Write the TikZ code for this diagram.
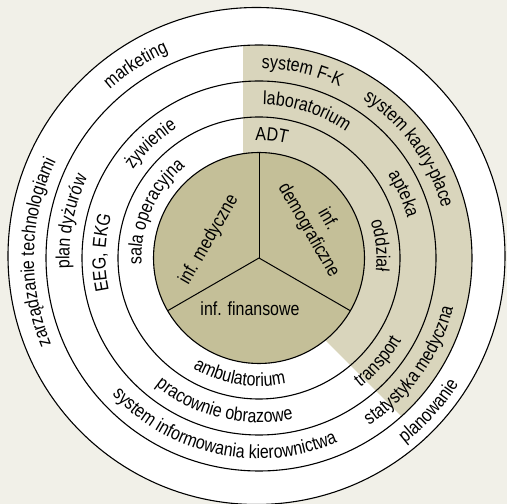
\documentclass[tikz,border=0pt]{standalone}
\usepackage{fontspec}
\setmainfont[FakeStretch=0.84]{Liberation Sans}
\usetikzlibrary{calc,decorations.text}

\definecolor{paper}{HTML}{F1F0E8}
\definecolor{band}{HTML}{D9D5BC}
\definecolor{hubfill}{HTML}{C4BF98}

\tikzset{
  ringline/.style={draw=black, line width=1.1pt},
  hubdisc/.style={circle, draw=black, line width=1.1pt, fill=hubfill,
    minimum size=211pt, inner sep=0pt, outer sep=0pt},
  spoke/.style={draw=black, line width=1pt},
  hubtext/.style={inner sep=0pt, align=center},
}

% text set clockwise along an arc (upper half, letters facing outwards)
\newcommand\cwlabel[3]{%
  \path[decorate, decoration={text along path, text align=center, text={#3}}]
    ($(C)+(#2+60:#1)$) arc[start angle=#2+60, end angle=#2-60, radius=#1];}
% text set counter-clockwise along an arc (lower half, letters facing inwards)
\newcommand\ccwlabel[3]{%
  \path[decorate, decoration={text along path, text align=center, text={#3}}]
    ($(C)+(#2-60:#1)$) arc[start angle=#2-60, end angle=#2+60, radius=#1];}

\begin{document}
\fontsize{19}{21}\selectfont
\begin{tikzpicture}[x=1pt, y=1pt]
  \useasboundingbox (0,0) rectangle (507,504);
  \fill[paper] (0,0) rectangle (507,504);
  \coordinate (C) at (259,246);
  \coordinate (O) at (256.5,248);

  % outermost disc
  \fill[white] (O) circle (248.5);
  \draw[ringline] (O) circle (248.5);

  % shaded band on the right-hand side
  \begin{scope}
    \clip (243,504) -- (243,246) -- (540,-51) -- (540,504) -- cycle;
    \fill[band, even odd rule] (C) circle (213) (C) circle (105.5);
  \end{scope}

  % ring borders
  \draw[ringline] (C) circle (213);
  \draw[ringline] (C) circle (177);
  \draw[ringline] (C) circle (141);

  % central disc split into three sectors
  \node[hubdisc] (hub) at (C) {};
  \draw[spoke] (C) -- (hub.90);
  \draw[spoke] (C) -- (hub.210);
  \draw[spoke] (C) -- (hub.330);

  \node[hubtext, rotate=60] (med) at (209,264) {inf. medyczne};
  \node[hubtext, rotate=-60] (demo) at (318,279) {inf.\\[1pt]demograficzne};
  \node[hubtext, anchor=base] (fin) at (250,188) {inf. finansowe};

  % ring 1
  \cwlabel{117.5}{84}{ADT}
  \cwlabel{117.5}{6}{oddział}
  \cwlabel{117.5}{156}{sala operacyjna}
  \ccwlabel{128.5}{260.6}{ambulatorium}
  % ring 2
  \cwlabel{153.5}{72}{laboratorium}
  \cwlabel{153.5}{24}{apteka}
  \cwlabel{153.5}{133.6}{żywienie}
  \cwlabel{153.5}{178}{EEG, EKG}
  \ccwlabel{164.5}{319}{transport}
  \ccwlabel{164.5}{256.5}{pracownie obrazowe}
  % ring 3
  \cwlabel{189.5}{77}{system F-K}
  \cwlabel{189.5}{36}{system kadry-płace}
  \cwlabel{189.5}{169}{plan dyżurów}
  \ccwlabel{200.5}{324.5}{statystyka medyczna}
  \ccwlabel{200.5}{258}{system informowania kierownictwa}
  % ring 4
  \cwlabel{225}{122.6}{marketing}
  \cwlabel{225}{178.5}{zarządzanie technologiami}
  \ccwlabel{236}{318}{planowanie}
\end{tikzpicture}
\end{document}
